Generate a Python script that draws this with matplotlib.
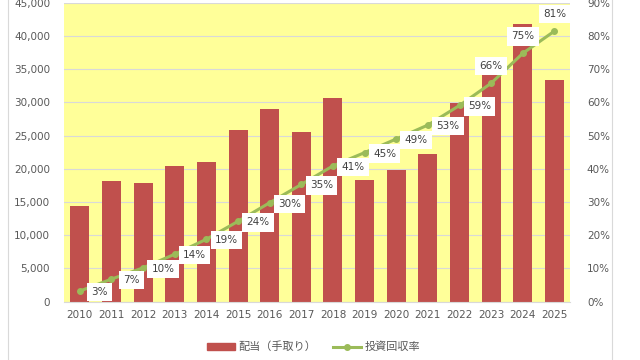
import matplotlib
matplotlib.use("Agg")
import matplotlib.pyplot as plt
from matplotlib.lines import Line2D
from matplotlib.patches import Patch
from matplotlib.ticker import FuncFormatter

plt.rcParams["font.family"] = ["DejaVu Sans", "Noto Sans CJK JP"]

years = [str(y) for y in range(2010, 2026)]
dividends = [14400, 18200, 17850, 20400, 21050, 25900, 29000, 25500,
             30650, 18350, 19900, 22300, 29850, 34450, 41850, 33350]
recovery = [3.2, 6.8, 10.2, 14.3, 18.8, 24.2, 29.8, 35.3,
            40.9, 44.9, 49.0, 53.2, 59.1, 65.8, 74.8, 81.5]
rate_labels = ["3%", "7%", "10%", "14%", "19%", "24%", "30%", "35%",
               "41%", "45%", "49%", "53%", "59%", "66%", "75%", "81%"]

BAR = "#C0504D"
LINE = "#9BBB59"
TXT = "#595959"

fig = plt.figure(figsize=(6.4, 3.6), dpi=100)
ax = fig.add_axes([0.1, 0.162, 0.791, 0.830])
ax.set_facecolor("#FFFF99")

x = list(range(len(years)))
ax.bar(x, dividends, width=0.6, color=BAR, zorder=2)
ax.set_xlim(-0.5, len(years) - 0.5)
ax.set_ylim(0, 45000)
ax.set_yticks(range(0, 45001, 5000))
ax.yaxis.set_major_formatter(FuncFormatter(lambda v, p: f"{int(v):,}"))
ax.set_xticks(x)
ax.set_xticklabels(years)
ax.grid(axis="y", color="#D9D9D9", linewidth=0.8, zorder=1)
ax.set_axisbelow(True)
for s in ax.spines.values():
    s.set_visible(False)
ax.spines["bottom"].set_visible(True)
ax.spines["bottom"].set_color("#D9D9D9")
ax.tick_params(length=0, labelsize=7.5, colors=TXT, pad=6)
ax.tick_params(axis="y", pad=10)

ax2 = ax.twinx()
ax2.plot(x, recovery, color=LINE, linewidth=2.2, marker="o", markersize=4, zorder=3)
ax2.set_ylim(0, 90)
ax2.set_yticks(range(0, 91, 10))
ax2.yaxis.set_major_formatter(FuncFormatter(lambda v, p: f"{int(v)}%"))
for s in ax2.spines.values():
    s.set_visible(False)
ax2.tick_params(length=0, labelsize=7.5, colors=TXT, pad=12)

# labels sit to the right of the point, the last three above it
for i, (v, lab) in enumerate(zip(recovery, rate_labels)):
    off = (0, 17) if i >= 13 else (20, -1)
    ax2.annotate(lab, (i, v), xytext=off, textcoords="offset pixels",
                 ha="center", va="center", fontsize=7.5, color="#404040", zorder=5,
                 bbox=dict(boxstyle="square,pad=0.4", fc="white", ec="none"))

handles = [Patch(color=BAR), Line2D([0], [0], color=LINE, linewidth=2.2, marker="o", markersize=4)]
fig.legend(handles, ["配当（手取り）", "投資回収率"], loc="center", bbox_to_anchor=(0.49, 0.036),
           ncol=2, frameon=False, fontsize=8, labelcolor=TXT, handlelength=2.5,
           handleheight=0.6, columnspacing=1.5, handletextpad=0.3)

fig.add_artist(Line2D([0.0125, 0.0125], [0, 1], color="#D9D9D9", linewidth=0.8))
fig.add_artist(Line2D([0.957, 0.957], [0, 1], color="#D9D9D9", linewidth=0.8))

fig.savefig("out.png", dpi=100)
